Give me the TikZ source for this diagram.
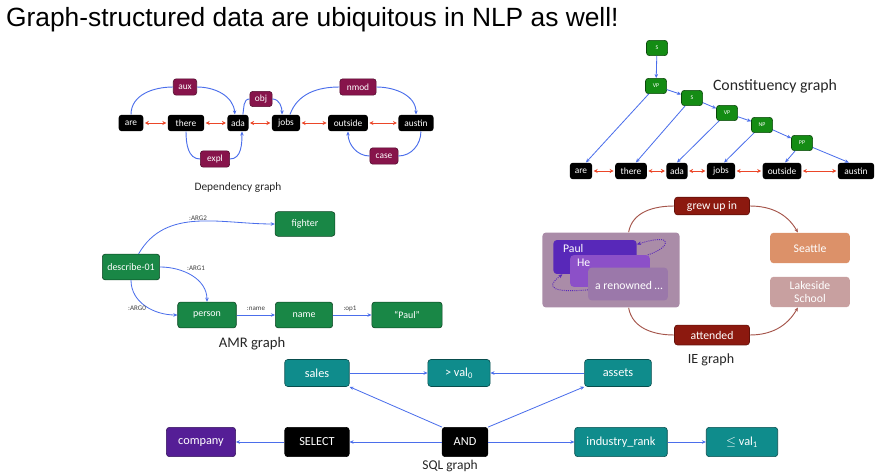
\documentclass[tikz,border=0pt]{standalone}
\usepackage{fontspec}
\setmainfont{Carlito}
\newfontfamily\headfont{Liberation Sans}
\usetikzlibrary{arrows.meta}

\definecolor{deplbl}{RGB}{135,20,75}
\definecolor{arcblue}{RGB}{75,110,235}
\definecolor{seqred}{RGB}{235,70,40}
\definecolor{congreen}{RGB}{20,140,20}
\definecolor{amrgreen}{RGB}{25,135,70}
\definecolor{iered}{RGB}{140,25,15}
\definecolor{iearc}{RGB}{165,85,75}
\definecolor{seattle}{RGB}{220,145,105}
\definecolor{lakeside}{RGB}{200,160,160}
\definecolor{cluster}{RGB}{170,140,168}
\definecolor{paulc}{RGB}{88,40,185}
\definecolor{hec}{RGB}{140,80,200}
\definecolor{renc}{RGB}{155,120,170}
\definecolor{sqlteal}{RGB}{15,140,140}
\definecolor{sqlpurple}{RGB}{85,30,150}

\begin{document}
\begin{tikzpicture}[x=0.03cm,y=-0.03cm,
  every node/.style={font=\fontsize{8}{9}\selectfont},
  tip/.style={-{Stealth[length=3.5pt,width=3pt]}},
  box/.style={rectangle,rounded corners=2.5pt,text=white,inner sep=1pt,line width=0.5pt},
  word/.style={box,fill=black,minimum height=14pt},
  deplab/.style={box,fill=deplbl,draw=deplbl!60!black,minimum height=14pt},
  nonterm/.style={box,fill=congreen,draw=congreen!50!black,minimum width=18pt,minimum height=13pt,font=\fontsize{5}{6}\selectfont},
  amr/.style={box,fill=amrgreen,draw=amrgreen!50!black,minimum height=22pt,font=\fontsize{8.5}{10}\selectfont},
  alab/.style={text=black!75,font=\fontsize{6}{7}\selectfont},
  rel/.style={box,fill=iered,draw=iered!70!black,font=\fontsize{10}{11}\selectfont,minimum width=64pt},
  ent/.style={box,rounded corners=3pt,font=\fontsize{10}{11}\selectfont,minimum width=68pt,minimum height=26pt,align=center},
  ment/.style={box,rounded corners=3pt},
  sql/.style={box,fill=sqlteal,draw=sqlteal!55!black,minimum height=25pt,font=\fontsize{10.5}{12}\selectfont},
  caption/.style={text=black!85},
  seq/.style={{Stealth[length=3.5pt,width=3.5pt]}-{Stealth[length=3.5pt,width=3.5pt]},draw=seqred,line width=0.75pt,shorten <=1pt,shorten >=1pt},
  arc/.style={draw=arcblue,line width=0.8pt},
  edge/.style={draw=arcblue,line width=0.7pt,tip},
  iel/.style={draw=iearc,line width=0.8pt},
  coref/.style={draw=paulc,line width=0.8pt,densely dotted,tip}]
\useasboundingbox (0,0) rectangle (883,476);

\node[anchor=west,font=\headfont\fontsize{22.5}{26}\selectfont] (title) at (2,20)
  {Graph-structured data are ubiquitous in NLP as well!};

\node[word,minimum width=21pt] (dare) at (131,123) {are};
\node[word,minimum width=31pt] (dthere) at (186,123) {there};
\node[word,minimum width=18pt] (dada) at (238,123) {ada};
\node[word,minimum width=24pt] (djobs) at (286,123) {jobs};
\node[word,minimum width=34pt] (doutside) at (348,123) {outside};
\node[word,minimum width=30pt] (daustin) at (416,123) {austin};
\node[deplab,minimum width=20pt] (aux) at (185,87) {aux};
\node[deplab,minimum width=19pt,minimum height=13pt] (obj) at (261,99) {obj};
\node[deplab,minimum width=31pt] (nmod) at (358,87) {nmod};
\node[deplab,minimum width=25pt] (expl) at (215,159) {expl};
\node[deplab,minimum width=24pt] (case) at (384,156) {case};
\foreach \a/\b in {dare/dthere,dthere/dada,dada/djobs,djobs/doutside,doutside/daustin}
  \draw[seq] (\a) -- (\b);
\draw[arc] (dare.north) to[out=90,in=180] (aux.west);
\draw[arc,tip] (aux.east) to[out=0,in=95] (dada.110);
\draw[arc] (dada.60) to[out=80,in=180] (obj.west);
\draw[arc,tip] (obj.east) to[out=0,in=90] (djobs.115);
\draw[arc] (djobs.65) to[out=70,in=180] (nmod.west);
\draw[arc,tip] (nmod.east) to[out=0,in=90] (daustin.north);
\draw[arc] (dthere.south) to[out=-90,in=180] (expl.west);
\draw[arc,tip] (expl.east) to[out=0,in=-90] (dada.-65);
\draw[arc] (daustin.-60) to[out=-90,in=0] (case.east);
\draw[arc,tip] (case.west) to[out=180,in=-90] (doutside.south);
\node[caption,font=\fontsize{9.7}{11}\selectfont] (depcap) at (238,188) {Dependency graph};

\node[nonterm] (cs0) at (657,48) {S};
\node[nonterm] (cvp) at (656,86) {VP};
\node[nonterm] (cs) at (692,98) {S};
\node[nonterm] (cvp2) at (727,113) {VP};
\node[nonterm] (cnp) at (762,125) {NP};
\node[nonterm] (cpp) at (802,143) {PP};
\node[word,minimum width=19pt] (care) at (581,171) {are};
\node[word,minimum width=27pt] (cthere) at (631,171) {there};
\node[word,minimum width=18pt] (cada) at (677,171) {ada};
\node[word,minimum width=24pt] (cjobs) at (721,171) {jobs};
\node[word,minimum width=33pt] (coutside) at (782,171) {outside};
\node[word,minimum width=31pt] (caustin) at (856,171) {austin};
\foreach \a/\b in {care/cthere,cthere/cada,cada/cjobs,cjobs/coutside,coutside/caustin}
  \draw[seq] (\a) -- (\b);
\foreach \a/\b in {cs0/cvp,cvp/cs,cs/cvp2,cvp2/cnp,cnp/cpp}
  \draw[edge] (\a) -- (\b);
\draw[edge] (cvp) -- (care.60);
\draw[edge] (cs) -- (cthere.60);
\draw[edge] (cvp2) -- (cada.north);
\draw[edge] (cnp) -- (cjobs.70);
\draw[edge] (cpp) -- (coutside.70);
\draw[edge] (cpp) -- (caustin.130);
\node[caption,font=\fontsize{13.5}{15}\selectfont] (concap) at (775,86) {Constituency graph};

\node[amr,minimum width=49pt] (desc) at (131,267) {describe-01};
\node[amr,minimum width=51pt,minimum height=21pt] (fighter) at (305,224) {fighter};
\node[amr,minimum width=50pt] (person) at (207,315) {person};
\node[amr,minimum width=49pt] (name) at (304,315) {name};
\node[amr,minimum width=60pt] (paulq) at (407,315) {``Paul''};
\draw[edge] (desc.60) to[out=60,in=180] (fighter.west);
\draw[edge] (desc.east) to[out=0,in=90] (person.north);
\draw[edge] (desc.south) to[out=-90,in=180] (person.west);
\draw[edge] (person) -- (name);
\draw[edge] (name) -- (paulq);
\node[alab] (larg2) at (198,218) {:ARG2};
\node[alab] (larg1) at (196,268) {:ARG1};
\node[alab] (larg0) at (137,308) {:ARG0};
\node[alab] (lname) at (256,309) {:name};
\node[alab] (lop) at (350,309) {:op1};
\node[caption,font=\fontsize{12.5}{14}\selectfont] (amrcap) at (252,344) {AMR graph};

\node[ment,fill=cluster,minimum width=117pt,minimum height=64pt] (cluster) at (611,270) {};
\node[ment,fill=paulc,minimum width=71pt,minimum height=29pt] (paul) at (595,257) {};
\node[ment,fill=hec,minimum width=68pt,minimum height=27pt] (he) at (610,271) {};
\node[ment,fill=renc,minimum width=68pt,minimum height=28pt] (ren) at (628,284) {};
\node[text=white,anchor=north west,font=\fontsize{10}{11}\selectfont] (tpaul) at (559,240) {Paul};
\node[text=white,anchor=north west,font=\fontsize{10}{11}\selectfont] (the) at (573,255) {He};
\node[text=white,font=\fontsize{10}{11}\selectfont] (tren) at (629,285) {a renowned \dots};
\draw[coref] ([xshift=-2pt]he.north east) .. controls (670,248) and (676,232) .. ([yshift=-4pt]paul.north east);
\draw[coref] ([yshift=-5pt]ren.west) .. controls (540,294) and (552,282) .. ([xshift=8pt]paul.south west);
\node[rel,minimum height=15pt] (grew) at (712,206) {grew up in};
\node[rel,minimum height=17pt] (att) at (712,335) {attended};
\node[ent,fill=seattle] (seattle) at (810,248) {Seattle};
\node[ent,fill=lakeside] (lake) at (810,292) {Lakeside\\School};
\draw[iel] (cluster.65) to[out=80,in=180] (grew.west);
\draw[iel,tip] (grew.east) to[out=0,in=120] (seattle.128);
\draw[iel] (cluster.-65) to[out=-80,in=180] (att.west);
\draw[iel,tip] (att.east) to[out=0,in=-120] (lake.-128);
\node[caption,font=\fontsize{12}{14}\selectfont] (iecap) at (711,360) {IE graph};

\node[sql,minimum width=55pt,minimum height=23pt] (sales) at (317,373) {sales};
\node[sql,minimum width=53pt,minimum height=23pt] (gval) at (459,373) {> val\textsubscript{0}};
\node[sql,minimum width=57pt,minimum height=23pt] (assets) at (618,373) {assets};
\node[sql,fill=sqlpurple,draw=sqlpurple!60!black,minimum width=59pt] (company) at (201,442) {company};
\node[sql,fill=black,draw=black,minimum width=55pt] (select) at (317,442) {SELECT};
\node[sql,fill=black,draw=black,minimum width=39pt] (and) at (465,442) {AND};
\node[sql,minimum width=79pt] (rank) at (621,442) {industry\_rank};
\node[sql,minimum width=61pt] (lval) at (742,442) {$\leq$ val\textsubscript{1}};
\draw[edge] (sales) -- (gval);
\draw[edge] (assets) -- (gval);
\draw[edge] (and.north west) -- (sales.south east);
\draw[edge] (and.north east) -- (assets.south west);
\draw[edge] (and) -- (select);
\draw[edge] (select) -- (company);
\draw[edge] (and) -- (rank);
\draw[edge] (rank) -- (lval);
\node[caption,font=\fontsize{11.5}{13}\selectfont] (sqlcap) at (450,466) {SQL graph};
\end{tikzpicture}
\end{document}
